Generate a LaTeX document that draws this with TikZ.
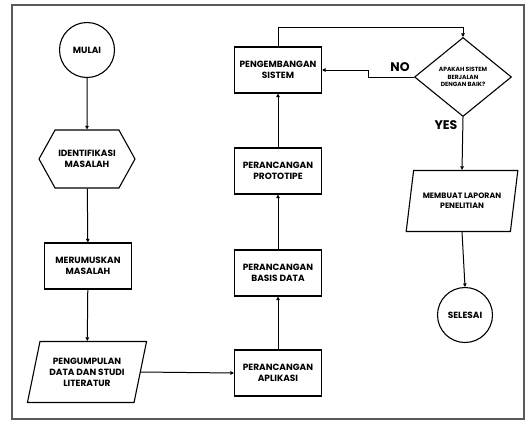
\documentclass[tikz,border=0pt]{standalone}
\usepackage{fontspec}
\setmainfont{Poppins}
\usetikzlibrary{shapes.geometric}
\usetikzlibrary{shapes.symbols}
\usetikzlibrary{arrows.meta}
\usetikzlibrary{positioning}

\tikzset{
  base/.style={draw, line width=1.1pt, align=center, inner sep=2pt,
    font=\bfseries\fontsize{9}{11}\selectfont},
  terminal/.style={base, circle, minimum size=55pt},
  prep/.style={base, signal, signal to=east and west, signal pointer angle=122,
    minimum width=96pt, minimum height=58pt},
  process/.style={base, rectangle, minimum width=87pt, minimum height=46pt},
  io/.style={base, trapezium, trapezium left angle=72, trapezium right angle=108,
    trapezium stretches=true, minimum height=61pt},
  decision/.style={base, diamond, minimum width=97pt, minimum height=79pt,
    inner sep=0pt, font=\bfseries\fontsize{6}{7.4}\selectfont},
  answer/.style={font=\bfseries\fontsize{12.5}{14}\selectfont},
  flow/.style={-{Triangle[length=3.5pt,width=3.5pt]}, line width=1pt},
}

\begin{document}
\begin{tikzpicture}[x=1pt,y=-1pt]
\useasboundingbox (0,0) rectangle (526,421);
\draw[line width=1.3pt, black!65] (12,5) rectangle (524,419);

% left column
\node[terminal] (mulai) at (87,50) {MULAI};
\node[prep] (identifikasi) at (87,159) {IDENTIFIKASI\\MASALAH};
\node[process] (merumuskan) at (88,266) {MERUMUSKAN\\MASALAH};
\node[io, minimum width=120pt] (pengumpulan) at (87,372) {PENGUMPULAN\\DATA DAN STUDI\\LITERATUR};

% middle column
\node[process] (aplikasi) at (278,373) {PERANCANGAN\\APLIKASI};
\node[process] (basis) at (278,273) {PERANCANGAN\\BASIS DATA};
\node[process] (prototipe) at (278,171) {PERANCANGAN\\PROTOTIPE};
\node[process] (pengembangan) at (278,70) {PENGEMBANGAN\\SISTEM};

% right column
\node[decision] (cek) at (463,77) {APAKAH SISTEM\\BERJALAN\\DENGAN BAIK?};
\node[io, minimum width=112pt, font=\bfseries\fontsize{7.8}{9.8}\selectfont] (laporan) at (462,201) {MEMBUAT LAPORAN\\PENELITIAN};
\node[terminal] (selesai) at (465,315) {SELESAI};

\node[answer] (no) at (400,67) {NO};
\node[answer] (yes) at (446,125) {YES};

\draw[flow] (mulai) -- (identifikasi);
\draw[flow] (identifikasi) -- (merumuskan);
\draw[flow] (merumuskan) -- (pengumpulan);
\draw[flow] (pengumpulan.east) -- (aplikasi.west);
\draw[flow] (aplikasi) -- (basis);
\draw[flow] (basis) -- (prototipe);
\draw[flow] (prototipe) -- (pengembangan);
\draw[flow] (pengembangan.north) -- ++(0,-19) -| (cek.north);
\draw[flow] (cek.west) -- ++(-45,0) |- (pengembangan.east);
\draw[flow] (cek.south) -- (laporan.north);
\draw[flow] (laporan.south) -- (selesai.north);
\end{tikzpicture}
\end{document}
